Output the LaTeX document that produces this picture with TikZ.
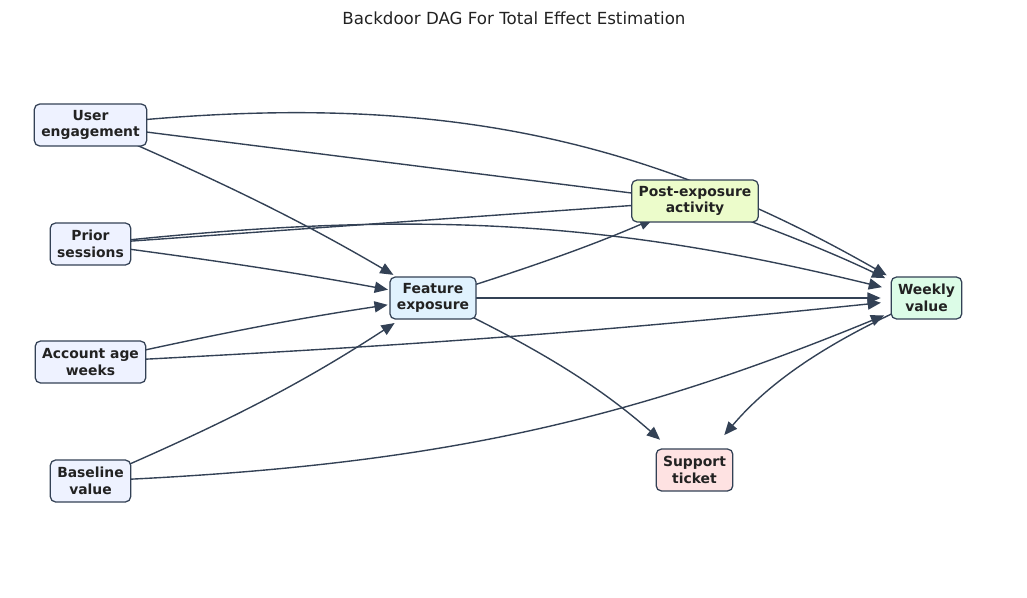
\documentclass[tikz,border=0pt]{standalone}
\usepackage{fontspec}
\setmainfont{DejaVu Sans}
\usetikzlibrary{arrows.meta}
\pgfdeclarelayer{bg}
\pgfsetlayers{bg,main}
\definecolor{edgecol}{HTML}{334155}
\definecolor{txtcol}{HTML}{222222}
\definecolor{fillconf}{HTML}{EEF2FF}
\definecolor{fillexp}{HTML}{E0F2FE}
\definecolor{fillmed}{HTML}{ECFCCB}
\definecolor{fillout}{HTML}{DCFCE7}
\definecolor{fillcol}{HTML}{FEE2E2}
\begin{document}
\begin{tikzpicture}[x=0.72pt,y=0.72pt,
  vbox/.style={draw=edgecol, line width=0.9pt, rounded corners=3.8pt, align=center,
    font=\bfseries\fontsize{10}{12}\selectfont, text=txtcol, inner xsep=5pt, inner ysep=2pt,
    minimum height=30.2pt},
  edge/.style={draw=edgecol, line width=1pt, -{Triangle[length=9.5pt,width=8pt]}, shorten >=33pt}]
\useasboundingbox (0,0) rectangle (1027,-598);
\node[font=\fontsize{12}{14.4}\selectfont, text=txtcol] (title) at (514,-18) {Backdoor DAG For Total Effect Estimation};
\node[vbox, fill=fillconf] (UE) at (90.5,-125) {User\\engagement};
\node[vbox, fill=fillconf] (PS) at (90.5,-244) {Prior\\sessions};
\node[vbox, fill=fillconf] (AA) at (90.5,-362) {Account age\\weeks};
\node[vbox, fill=fillconf] (BV) at (90.5,-481) {Baseline\\value};
\node[vbox, fill=fillexp] (FE) at (433,-298) {Feature\\exposure};
\node[vbox, fill=fillmed] (PA) at (695,-201) {Post-exposure\\activity};
\node[vbox, fill=fillout] (WV) at (926.5,-298) {Weekly\\value};
\node[vbox, fill=fillcol] (ST) at (694.5,-470) {Support\\ticket};
\begin{pgfonlayer}{bg}
\draw[edge] (UE.center) to[bend left=18] (WV.center);
\draw[edge] (PS.center) to[bend left=10] (WV.center);
\draw[edge] (UE.center) -- (PA.center);
\draw[edge] (PS.center) -- (PA.center);
\draw[edge] (UE.center) to[bend left=3.5] (FE.center);
\draw[edge] (PS.center) to[bend left=1.5] (FE.center);
\draw[edge] (AA.center) to[bend left=2] (FE.center);
\draw[edge] (AA.center) to[bend right=1.5] (WV.center);
\draw[edge] (BV.center) to[bend right=5] (FE.center);
\draw[edge] (BV.center) to[bend right=10] (WV.center);
\draw[edge] (FE.center) to[bend right=3] (PA.center);
\draw[edge] (FE.center) -- (WV.center);
\draw[edge] (FE.center) to[bend left=8] (ST.center);
\draw[edge] (PA.center) to[bend left=3] (WV.center);
\draw[edge] (WV.center) to[bend right=13] (ST.center);
\end{pgfonlayer}
\end{tikzpicture}
\end{document}
